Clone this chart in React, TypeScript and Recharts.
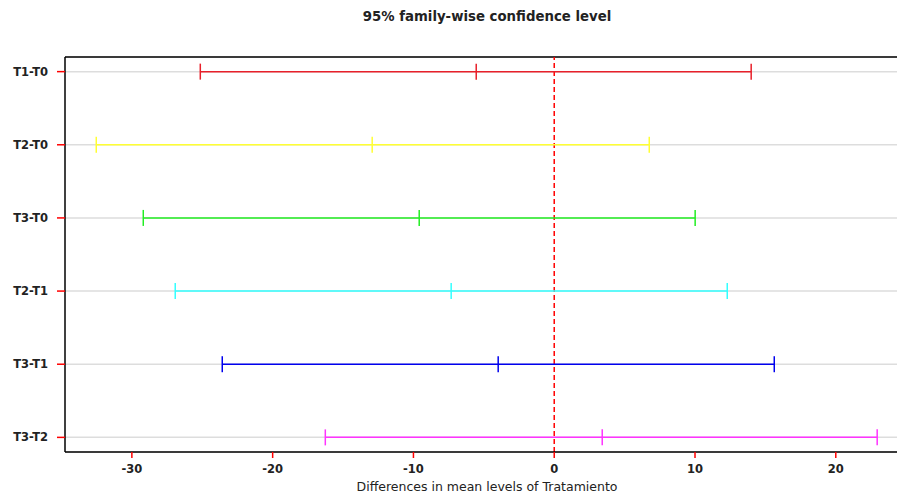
import React from "react";
import {
  ScatterChart,
  Scatter,
  XAxis,
  YAxis,
  CartesianGrid,
  ReferenceLine,
  Label,
  Customized,
} from "recharts";

// comparisons, bottom row first (R puts the first comparison at the top)
const comparisons = ["T3-T2", "T3-T1", "T2-T1", "T3-T0", "T2-T0", "T1-T0"];
const lwr = [-16.26, -23.58, -26.92, -29.19, -32.53, -25.14];
const diff = [3.41, -3.98, -7.32, -9.59, -12.93, -5.54];
const upr = [22.94, 15.63, 12.29, 10.01, 6.75, 13.99];
const colors = ["#ff33ff", "#0000ee", "#33ffff", "#22ee22", "#ffff33", "#e8202a"];
const xTicks = [-30, -20, -10, 0, 10, 20];
const yTicks = [1, 2, 3, 4, 5, 6];

const font = "DejaVu Sans, sans-serif";
const title = "95% family-wise confidence level";

const rows = comparisons.map((name, i) => ({
  name,
  color: colors[i],
  points: [
    { x: lwr[i], y: i + 1 },
    { x: diff[i], y: i + 1 },
    { x: upr[i], y: i + 1 },
  ],
}));

const barTick = (color: string) => (props: any) => {
  const { cx, cy } = props;
  return (
    <line x1={cx} x2={cx} y1={cy - 8} y2={cy + 8} stroke={color} strokeWidth={1.5} />
  );
};

const Title = () => (
  <text
    x={487}
    y={21}
    textAnchor="middle"
    fill="#222"
    fontSize={13.3}
    fontWeight="bold"
    fontFamily={font}
  >
    {title}
  </text>
);

export default function App() {
  return (
    <div
      style={{
        position: "fixed",
        left: 0,
        top: 0,
        width: 897,
        height: 495,
        overflow: "hidden",
        background: "#fff",
      }}
    >
      <ScatterChart
        width={930}
        height={500}
        margin={{ top: 57, right: 21, left: 8, bottom: 18 }}
      >
        <CartesianGrid vertical={false} stroke="#dddddd" strokeWidth={1.5} />
        <XAxis
          type="number"
          dataKey="x"
          domain={[-34.75, 25.2]}
          ticks={xTicks}
          allowDataOverflow
          height={30}
          tickSize={6}
          tickMargin={7}
          tickLine={{ stroke: "red", strokeWidth: 1.5 }}
          axisLine={{ stroke: "#000", strokeWidth: 1.5 }}
          tick={{ fill: "#222", fontSize: 11.5, fontWeight: "bold", fontFamily: font }}
        >
          <Label
            value="Differences in mean levels of Tratamiento"
            position="bottom"
            offset={0}
            style={{ fill: "#222", fontSize: 12.5, fontFamily: font }}
          />
        </XAxis>
        <YAxis
          type="number"
          dataKey="y"
          domain={[0.8, 6.2]}
          ticks={yTicks}
          allowDataOverflow
          width={57}
          tickSize={8}
          tickMargin={9}
          tickFormatter={(v: number) => comparisons[v - 1]}
          tickLine={{ stroke: "red", strokeWidth: 1.5 }}
          axisLine={{ stroke: "#000", strokeWidth: 1.5 }}
          tick={{ fill: "#222", fontSize: 11.5, fontWeight: "bold", fontFamily: font }}
        />
        <ReferenceLine y={6.2} stroke="#000" strokeWidth={1.5} />
        {rows.map((r) => (
          <Scatter
            key={r.name}
            name={r.name}
            data={r.points}
            line={{ stroke: r.color, strokeWidth: 1.5 }}
            lineType="joint"
            shape={barTick(r.color)}
            isAnimationActive={false}
          />
        ))}
        <ReferenceLine x={0} stroke="red" strokeWidth={1.5} strokeDasharray="5 3" />
        <Customized component={Title} />
      </ScatterChart>
    </div>
  );
}
